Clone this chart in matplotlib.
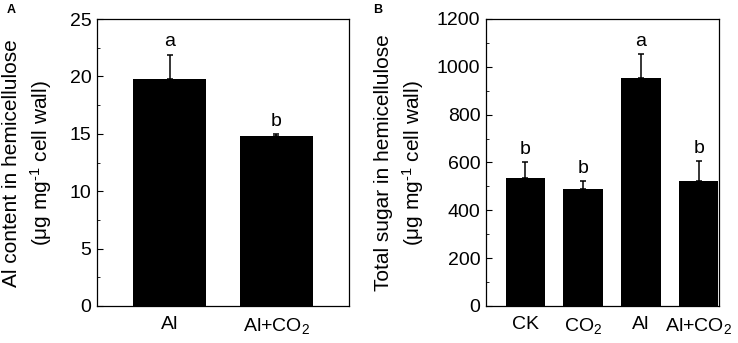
import matplotlib.pyplot as plt
from matplotlib.ticker import MultipleLocator

plt.rcParams['font.family'] = ['Liberation Sans', 'DejaVu Sans']
plt.rcParams['mathtext.fontset'] = 'custom'
plt.rcParams['mathtext.rm'] = 'Liberation Sans'
plt.rcParams['mathtext.it'] = 'Liberation Sans'

# panel A data
a_labels = ['Al', 'Al+CO$_2$']
a_values = [19.8, 14.85]
a_errors = [2.1, 0.15]
a_letters = ['a', 'b']

# panel B data
b_labels = ['CK', 'CO$_2$', 'Al', 'Al+CO$_2$']
b_values = [534, 488, 953, 524]
b_errors = [67, 35, 99, 81]
b_letters = ['b', 'b', 'a', 'b']

W, H = 738, 343
fig = plt.figure(figsize=(W/100, H/100), dpi=100)
axA = fig.add_axes([97/W, 37/H, 252/W, 287/H])
axB = fig.add_axes([486/W, 37/H, 233/W, 287/H])


def draw(ax, labels, values, errors, letters, ymax, major, minor):
    x = list(range(len(values)))
    ax.bar(x, values, width=0.68, color='black', zorder=2)
    ax.errorbar(x, values, yerr=[[0]*len(errors), errors], fmt='none',
                ecolor='black', elinewidth=1.1, capsize=2.5, capthick=1.1, zorder=3)
    for xi, v, e, l in zip(x, values, errors, letters):
        ax.annotate(l, (xi, v + e), xytext=(0, 3), textcoords='offset points',
                    ha='center', va='bottom', fontsize=14)
    ax.set_ylim(0, ymax)
    ax.yaxis.set_major_locator(MultipleLocator(major))
    ax.yaxis.set_minor_locator(MultipleLocator(minor))
    ax.set_xticks(x)
    ax.set_xticklabels(labels)
    ax.tick_params(axis='y', which='both', direction='in', right=False, labelsize=14, pad=4)
    ax.tick_params(axis='y', which='major', length=4)
    ax.tick_params(axis='y', which='minor', length=2.5)
    ax.tick_params(axis='x', length=0, labelsize=14, pad=7)
    for s in ax.spines.values():
        s.set_linewidth(0.9)


draw(axA, a_labels, a_values, a_errors, a_letters, 25, 5, 2.5)
axA.set_xlim(-0.68, 1.68)

draw(axB, b_labels, b_values, b_errors, b_letters, 1200, 200, 100)
axB.set_xlim(-0.68, 3.35)

# y axis labels placed as figure text
unit = '(\u03bcg mg$^{\\text{-}1}$ cell wall)'
fig.text(28/W, 1 - 163/H, 'Al content in hemicellulose\n' + unit,
         rotation=90, ha='center', va='center', fontsize=15, linespacing=1.35,
         multialignment='center')
fig.text(400/W, 1 - 163/H, 'Total sugar in hemicellulose\n' + unit,
         rotation=90, ha='center', va='center', fontsize=15, linespacing=1.35,
         multialignment='center')

fig.text(7/W, 1 - 10/H, 'A', fontsize=9, fontweight='bold', va='center')
fig.text(373/W, 1 - 10/H, 'B', fontsize=9, fontweight='bold', va='center')

fig.savefig('out.png', dpi=100)
